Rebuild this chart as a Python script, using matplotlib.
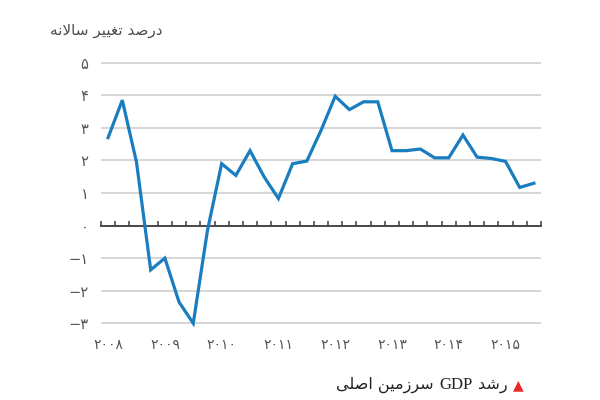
import numpy as np
import matplotlib
matplotlib.use('Agg')
import matplotlib.pyplot as plt
from matplotlib.offsetbox import TextArea, HPacker, AnchoredOffsetbox

plt.rcParams['font.family'] = ['DejaVu Sans']

# رشد فصلی تولید ناخالص داخلی (درصد تغییر سالانه)، ۲۰۰۸ فصل ۱ تا ۲۰۱۵ فصل ۳
gdp_growth = [2.7, 3.85, 1.95, -1.36, -1.0, -2.35, -3.0, -0.15,
              1.9, 1.54, 2.3, 1.49, 0.83, 1.9, 1.98, 2.92,
              3.97, 3.56, 3.8, 3.8, 2.3, 2.3, 2.35, 2.08,
              2.08, 2.78, 2.1, 2.06, 1.97, 1.17, 1.3]
years = [2008, 2009, 2010, 2011, 2012, 2013, 2014, 2015]
y_ticks = [-3, -2, -1, 0, 1, 2, 3, 4, 5]

title_text = 'درصد تغییر سالانه'
legend_left = 'سرزمین اصلی'
legend_mid = 'GDP'
legend_right = 'رشد'

line_color = '#1a7dc0'
grid_color = '#d0d0d0'
text_color = '#555555'

# شکل‌دهی ساده حروف فارسی (matplotlib خودش اتصال حروف را انجام نمی‌دهد)
FORMS = {
    'ا': ('\uFE8D', '\uFE8E', None, None),
    'د': ('\uFEA9', '\uFEAA', None, None),
    'ر': ('\uFEAD', '\uFEAE', None, None),
    'ز': ('\uFEAF', '\uFEB0', None, None),
    'س': ('\uFEB1', '\uFEB2', '\uFEB3', '\uFEB4'),
    'ش': ('\uFEB5', '\uFEB6', '\uFEB7', '\uFEB8'),
    'ص': ('\uFEB9', '\uFEBA', '\uFEBB', '\uFEBC'),
    'ت': ('\uFE95', '\uFE96', '\uFE97', '\uFE98'),
    'غ': ('\uFECD', '\uFECE', '\uFECF', '\uFED0'),
    'ل': ('\uFEDD', '\uFEDE', '\uFEDF', '\uFEE0'),
    'م': ('\uFEE1', '\uFEE2', '\uFEE3', '\uFEE4'),
    'ن': ('\uFEE5', '\uFEE6', '\uFEE7', '\uFEE8'),
    'ه': ('\uFEE9', '\uFEEA', '\uFEEB', '\uFEEC'),
    'ی': ('\uFEEF', '\uFEF0', '\uFEF3', '\uFEF4'),
}


def shape_word(word):
    out = []
    prev_joins = False
    i = 0
    while i < len(word):
        c = word[i]
        if c not in FORMS:
            out.append(c)
            prev_joins = False
            i += 1
            continue
        if c == 'ل' and i + 1 < len(word) and word[i + 1] == 'ا':
            out.append('\uFEFC' if prev_joins else '\uFEFB')
            prev_joins = False
            i += 2
            continue
        iso, fin, ini, med = FORMS[c]
        nxt = word[i + 1] if i + 1 < len(word) else None
        next_joins = ini is not None and nxt in FORMS
        if prev_joins and next_joins:
            out.append(med)
        elif prev_joins:
            out.append(fin)
        elif next_joins:
            out.append(ini)
        else:
            out.append(iso)
        prev_joins = next_joins
        i += 1
    return ''.join(reversed(out))


def rtl(text):
    return ' '.join(shape_word(w) for w in reversed(text.split(' ')))


def fa_num(n):
    return str(n).translate(str.maketrans('0123456789-', '۰۱۲۳۴۵۶۷۸۹−'))


fig = plt.figure(figsize=(6, 4), dpi=100)
ax = fig.add_axes([101 / 600, 0.1755, 440 / 600, 0.684])

x = np.arange(len(gdp_growth)) + 0.5
ax.plot(x, gdp_growth, color=line_color, lw=2.3, zorder=3,
        solid_joinstyle='miter', clip_on=False)

ax.set_xlim(0, len(gdp_growth))
ax.set_ylim(-3.2, 5.2)

ax.set_yticks(y_ticks)
ax.set_yticklabels([fa_num(v) for v in y_ticks])
ax.yaxis.grid(True, color=grid_color, lw=1.2)
ax.set_axisbelow(True)
ax.tick_params(axis='y', length=0, pad=9, labelsize=10.5, labelcolor=text_color)

# محور صفر با تیک‌های فصلی رو به بالا
for s in ['left', 'right', 'top']:
    ax.spines[s].set_visible(False)
ax.spines['bottom'].set_position(('data', 0))
ax.spines['bottom'].set_color('#3c3c3c')
ax.spines['bottom'].set_linewidth(1.3)
ax.set_xticks(np.arange(len(gdp_growth) + 1))
ax.tick_params(axis='x', direction='in', length=3.5, width=1.1,
               color='#3c3c3c', labelbottom=False)

sec = ax.secondary_xaxis('bottom')
sec.set_xticks([4 * k + 0.5 for k in range(len(years))])
sec.set_xticklabels([fa_num(y) for y in years])
sec.tick_params(length=0, pad=6, labelsize=10, labelcolor=text_color)
sec.spines['bottom'].set_visible(False)

fig.text(50 / 600, 1 - 30 / 400, rtl(title_text), ha='left', va='center',
         fontsize=11, color='#4d4d4d')

parts = [
    TextArea(rtl(legend_left), textprops=dict(fontsize=11.5, color='#222222')),
    TextArea(legend_mid, textprops=dict(fontsize=12, color='#222222',
                                        family='Liberation Serif')),
    TextArea(rtl(legend_right), textprops=dict(fontsize=11.5, color='#222222')),
    TextArea('▲', textprops=dict(fontsize=10, color='#e8262b')),
]
box = HPacker(children=parts, align='baseline', pad=0, sep=4)
anchored = AnchoredOffsetbox(loc='center right', child=box, pad=0, borderpad=0,
                             frameon=False, bbox_to_anchor=(524 / 600, 1 - 385 / 400),
                             bbox_transform=fig.transFigure)
fig.add_artist(anchored)

fig.savefig('out.png', dpi=100)
